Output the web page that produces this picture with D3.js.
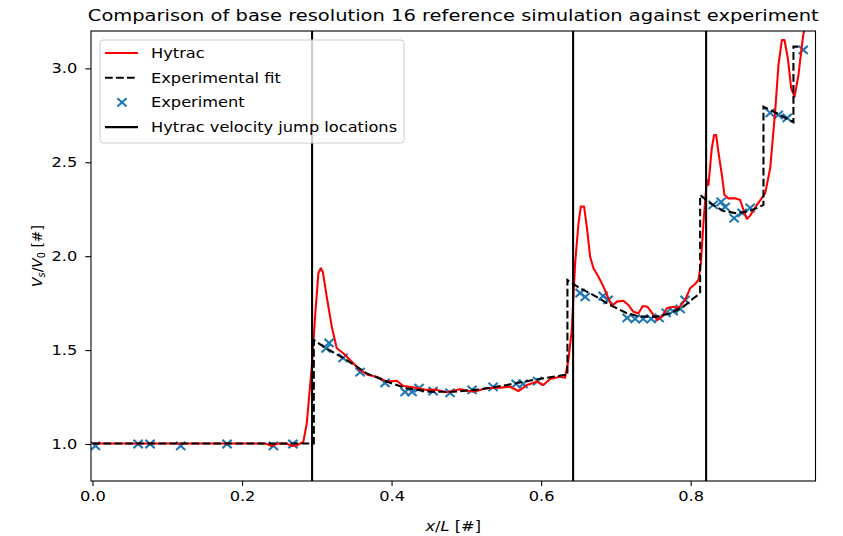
<!DOCTYPE html>
<html>
<head>
<meta charset="utf-8">
<script src="https://cdn.jsdelivr.net/npm/d3@7"></script>
<style>
  body { margin: 0; background: #fff; }
  svg { font-family: "DejaVu Sans", sans-serif; }
</style>
</head>
<body>
<div id="chart"></div>
<script>
// ============================
// Data
// ============================

const xTicks = [0.0, 0.2, 0.4, 0.6, 0.8];
const yTicks = [1.0, 1.5, 2.0, 2.5, 3.0];

// Hytrac simulation [x/L, Vs/V0]
const hytrac = [
  [0.000, 1.003], [0.100, 1.003], [0.200, 1.003], [0.232, 1.002], [0.2397, 0.989], [0.247, 1.002],
  [0.260, 1.002], [0.266, 0.990], [0.273, 0.992], [0.2776, 1.002], [0.282, 1.012],
  [0.2866, 1.110], [0.2933, 1.412], [0.2977, 1.678], [0.3021, 1.909], [0.3053, 1.936],
  [0.308, 1.917], [0.3133, 1.784], [0.320, 1.625], [0.3267, 1.510], [0.3355, 1.483],
  [0.3468, 1.438], [0.3579, 1.394], [0.369, 1.367], [0.380, 1.358], [0.3936, 1.332],
  [0.407, 1.337], [0.4158, 1.309], [0.4292, 1.302], [0.447, 1.288], [0.4605, 1.288],
  [0.4739, 1.275], [0.4916, 1.291], [0.5094, 1.278], [0.5274, 1.297], [0.5452, 1.300],
  [0.5585, 1.305], [0.5696, 1.282], [0.5809, 1.314], [0.5942, 1.332], [0.6031, 1.314],
  [0.612, 1.346], [0.6254, 1.358], [0.632, 1.353], [0.6365, 1.447], [0.641, 1.607],
  [0.6455, 1.962], [0.650, 2.175], [0.6531, 2.264], [0.6575, 2.264], [0.6611, 2.157],
  [0.6656, 1.997], [0.670, 1.936], [0.6767, 1.891], [0.6834, 1.838], [0.690, 1.776],
  [0.6946, 1.735], [0.7013, 1.758], [0.7101, 1.763], [0.7168, 1.740], [0.7235, 1.704],
  [0.7302, 1.696], [0.736, 1.735], [0.7422, 1.731], [0.7502, 1.687], [0.7556, 1.660],
  [0.7615, 1.678], [0.7682, 1.723], [0.777, 1.731], [0.7837, 1.723], [0.7926, 1.767],
  [0.7993, 1.829], [0.806, 1.852], [0.8104, 1.873], [0.8137, 1.962], [0.8171, 2.175],
  [0.8216, 2.406], [0.8238, 2.379], [0.8283, 2.575], [0.8314, 2.645], [0.8341, 2.645],
  [0.8371, 2.556], [0.8418, 2.432], [0.8452, 2.326], [0.8505, 2.308], [0.8595, 2.308],
  [0.8662, 2.299], [0.8707, 2.246], [0.8752, 2.198], [0.8796, 2.216], [0.8886, 2.273],
  [0.8997, 2.335], [0.9064, 2.468], [0.913, 2.769], [0.9175, 3.018], [0.922, 3.151],
  [0.9255, 3.151], [0.930, 3.054], [0.9345, 2.894], [0.939, 2.849], [0.9442, 2.965],
  [0.950, 3.160], [0.953, 3.230], [0.956, 3.300]
];

// Experimental fit [x/L, Vs/V0]
const expFit = [
  [0.000, 1.003], [0.296, 1.003], [0.296, 1.554], [0.3088, 1.518], [0.340, 1.447],
  [0.3668, 1.376], [0.398, 1.326], [0.420, 1.297], [0.4515, 1.278], [0.4827, 1.278],
  [0.5184, 1.291], [0.554, 1.314], [0.5897, 1.341], [0.630, 1.367], [0.6352, 1.367],
  [0.6352, 1.873], [0.6522, 1.829], [0.670, 1.793], [0.6923, 1.740], [0.7147, 1.696],
  [0.7324, 1.678], [0.7548, 1.678], [0.7726, 1.696], [0.7904, 1.731], [0.8037, 1.776],
  [0.8127, 1.802], [0.8127, 2.326], [0.8261, 2.282], [0.8439, 2.241], [0.8618, 2.228],
  [0.8796, 2.241], [0.8974, 2.273], [0.8974, 2.796], [0.9153, 2.761], [0.9375, 2.713],
  [0.9375, 3.116], [0.9440, 3.116]
];

// Experiment points [x/L, Vs/V0]
const experiment = [
  [0.004, 0.99], [0.061, 1.0], [0.077, 1.0], [0.118, 0.99], [0.180, 1.0], [0.242, 0.99], [0.268, 1.0],
  [0.3124, 1.509], [0.3164, 1.538], [0.3351, 1.458], [0.3579, 1.383], [0.3913, 1.325],
  [0.4181, 1.277], [0.4274, 1.277], [0.4368, 1.298], [0.4555, 1.282], [0.4783, 1.272],
  [0.5077, 1.288], [0.5358, 1.304], [0.5666, 1.320], [0.5759, 1.320], [0.5953, 1.335],
  [0.6522, 1.804], [0.6589, 1.783], [0.6829, 1.788], [0.6896, 1.767], [0.7151, 1.671],
  [0.7258, 1.666], [0.7365, 1.666], [0.7472, 1.666], [0.7579, 1.671], [0.7672, 1.698],
  [0.7766, 1.708], [0.7860, 1.719], [0.7926, 1.767],
  [0.8301, 2.273], [0.8408, 2.289], [0.8462, 2.262], [0.8582, 2.203], [0.8689, 2.230],
  [0.8796, 2.257], [0.9064, 2.763], [0.9171, 2.752], [0.9291, 2.736], [0.9505, 3.098]
];

// Hytrac velocity jump locations
const jumps = [0.2937, 0.6428, 0.8207];

const legendItems = ["Hytrac", "Experimental fit", "Experiment", "Hytrac velocity jump locations"];

// ============================
// Setup
// ============================

const width = 843, height = 536;
const margin = {top: 31, right: 27.5, bottom: 55, left: 91};
const stretchX = 1.167; // the figure is wider than tall-looking text suggests

const svg = d3.select("#chart").append("svg")
  .attr("width", width).attr("height", height);

const xscale = d3.scaleLinear().domain([-0.002, 0.967]).range([margin.left, width - margin.right]);
const yscale = d3.scaleLinear().domain([0.803, 3.199]).range([height - margin.bottom, margin.top]);

// widen a text horizontally
function stretch(sel) {
  sel.each(function() {
    const w = this.getComputedTextLength();
    d3.select(this).attr("textLength", w * stretchX).attr("lengthAdjust", "spacingAndGlyphs");
  });
}

svg.append("defs").append("clipPath").attr("id", "clip")
  .append("rect")
  .attr("x", margin.left).attr("y", margin.top)
  .attr("width", width - margin.left - margin.right)
  .attr("height", height - margin.top - margin.bottom);

const plot = svg.append("g").attr("clip-path", "url(#clip)");

const line = d3.line().x(d => xscale(d[0])).y(d => yscale(d[1]));

// scatter (drawn under the lines like matplotlib)
const mx = 4.6, my = 4.1;
const cross = (cx, cy) =>
  `M${cx - mx},${cy - my}L${cx + mx},${cy + my}M${cx - mx},${cy + my}L${cx + mx},${cy - my}`;

plot.append("g")
  .selectAll("path")
  .data(experiment)
  .join("path")
  .attr("d", d => cross(xscale(d[0]), yscale(d[1])))
  .attr("stroke", "#1f77b4")
  .attr("stroke-width", 2.1)
  .attr("fill", "none");

plot.append("path")
  .datum(hytrac)
  .attr("d", line)
  .attr("fill", "none")
  .attr("stroke", "red")
  .attr("stroke-width", 2.08)
  .attr("stroke-linejoin", "round");

plot.append("path")
  .datum(expFit)
  .attr("d", line)
  .attr("fill", "none")
  .attr("stroke", "black")
  .attr("stroke-width", 2.08)
  .attr("stroke-dasharray", "7.7,3.3");

plot.append("g")
  .selectAll("line")
  .data(jumps)
  .join("line")
  .attr("x1", d => xscale(d)).attr("x2", d => xscale(d))
  .attr("y1", margin.top).attr("y2", height - margin.bottom)
  .attr("stroke", "black")
  .attr("stroke-width", 2.08);

// ============================
// Axes
// ============================

const xAxis = svg.append("g")
  .attr("transform", `translate(0,${height - margin.bottom})`)
  .call(d3.axisBottom(xscale).tickValues(xTicks).tickFormat(d3.format(".1f")).tickSize(4.9).tickPadding(4.9));

const yAxis = svg.append("g")
  .attr("transform", `translate(${margin.left},0)`)
  .call(d3.axisLeft(yscale).tickValues(yTicks).tickFormat(d3.format(".1f")).tickSize(5.7).tickPadding(8));

[xAxis, yAxis].forEach(a => {
  a.select(".domain").remove();
  a.selectAll("text").attr("font-size", 13.9).attr("fill", "#000").attr("font-family", "DejaVu Sans");
  a.selectAll("line").attr("stroke", "#000").attr("stroke-width", 1.1);
  a.selectAll("text").call(stretch);
});

// frame
svg.append("rect")
  .attr("x", margin.left).attr("y", margin.top)
  .attr("width", width - margin.left - margin.right)
  .attr("height", height - margin.top - margin.bottom)
  .attr("fill", "none").attr("stroke", "#000").attr("stroke-width", 1.1);

// labels
svg.append("text")
  .attr("x", (margin.left + width - margin.right) / 2).attr("y", 21)
  .attr("text-anchor", "middle").attr("font-size", 16.7)
  .text("Comparison of base resolution 16 reference simulation against experiment")
  .call(stretch);

const xl = svg.append("text")
  .attr("x", (margin.left + width - margin.right) / 2).attr("y", 531)
  .attr("text-anchor", "middle").attr("font-size", 13.9);
xl.append("tspan").attr("font-style", "italic").text("x");
xl.append("tspan").text("/");
xl.append("tspan").attr("font-style", "italic").text("L");
xl.append("tspan").text(" [#]");
xl.call(stretch);

const yl = svg.append("text")
  .attr("transform", `translate(42,${(margin.top + height - margin.bottom) / 2}) rotate(-90)`)
  .attr("text-anchor", "middle").attr("font-size", 13.9);
yl.append("tspan").attr("font-style", "italic").text("V");
yl.append("tspan").attr("font-style", "italic").attr("font-size", 9.7).attr("dy", 3).text("s");
yl.append("tspan").attr("dy", -3).text("/");
yl.append("tspan").attr("font-style", "italic").text("V");
yl.append("tspan").attr("font-size", 9.7).attr("dy", 3).text("0");
yl.append("tspan").attr("dy", -3).text(" [#]");

// ============================
// Legend
// ============================

const legend = svg.append("g").attr("transform", "translate(100,40)");
legend.append("rect")
  .attr("width", 304).attr("height", 103)
  .attr("rx", 3)
  .attr("fill", "white").attr("fill-opacity", 0.8)
  .attr("stroke", "#cccccc").attr("stroke-width", 1);

const rowY = i => 13 + i * 24.7;
legendItems.forEach((name, i) => {
  const g = legend.append("g").attr("transform", `translate(0,${rowY(i)})`);
  if (i === 2) {
    g.append("path")
      .attr("d", cross(22, 0))
      .attr("stroke", "#1f77b4").attr("stroke-width", 2.1);
  } else {
    g.append("line")
      .attr("x1", 5).attr("x2", 38).attr("y1", 0).attr("y2", 0)
      .attr("stroke", i === 0 ? "red" : "black")
      .attr("stroke-width", 2.08)
      .attr("stroke-dasharray", i === 1 ? "7.7,3.3" : null);
  }
  g.append("text")
    .attr("x", 51).attr("y", 0).attr("dy", "0.35em")
    .attr("font-size", 13.9)
    .text(name)
    .call(stretch);
});
</script>
</body>
</html>
